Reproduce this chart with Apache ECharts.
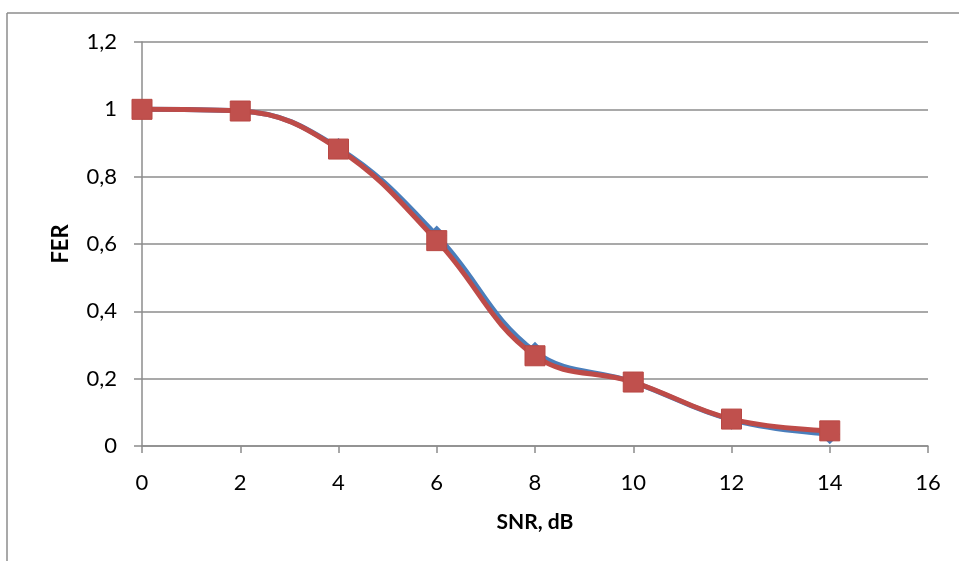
<!DOCTYPE html>
<html>
<head>
<meta charset="utf-8">
<script src="https://cdn.jsdelivr.net/npm/echarts@6/dist/echarts.min.js"></script>
<style>
  html, body { margin: 0; padding: 0; background: #fff; }
  #chart { width: 959px; height: 561px; }
</style>
</head>
<body>
<div id="chart"></div>
<script>
// SNR values (dB) and frame error rates
const snr = [ 0, 2, 4, 6, 8, 10, 12, 14 ];
const ferBlue = [ 1.0, 0.995, 0.885, 0.625, 0.28, 0.19, 0.078, 0.035 ];
const ferRed = [ 1.0, 0.995, 0.882, 0.61, 0.268, 0.19, 0.08, 0.045 ];
const xTicks = { min: 0, max: 16, interval: 2 };
const yTicks = { min: 0, max: 1.2, interval: 0.2 };

const fontFamily = 'Lato, "Open Sans", sans-serif';
const greyLine = '#8c8c8c';

function toPairs( xs, ys ) {
	return xs.map( ( x, i ) => [ x, ys[ i ] ] );
}

const chart = echarts.init( document.getElementById( 'chart' ) );

chart.setOption( {
	animation: false,
	grid: { left: 142, right: 31, top: 42, bottom: 115 },
	graphic: [
		// outer chart frame (only top and left edges visible)
		{ type: 'line', shape: { x1: 7, y1: 13, x2: 959, y2: 13 }, style: { stroke: greyLine, lineWidth: 1.5 } },
		{ type: 'line', shape: { x1: 7, y1: 13, x2: 7, y2: 561 }, style: { stroke: greyLine, lineWidth: 1.5 } }
	],
	xAxis: {
		type: 'value',
		min: xTicks.min,
		max: xTicks.max,
		interval: xTicks.interval,
		name: 'SNR, dB',
		nameLocation: 'middle',
		nameGap: 66,
		nameTextStyle: { fontFamily, fontSize: 21, fontWeight: 'bold', color: '#000' },
		axisLine: { show: true, lineStyle: { color: greyLine, width: 1.5 } },
		axisTick: { show: true, inside: false, length: 7, lineStyle: { color: greyLine, width: 1.5 } },
		axisLabel: { fontFamily, fontSize: 22, color: '#000', margin: 26 },
		splitLine: { show: false }
	},
	yAxis: {
		type: 'value',
		min: yTicks.min,
		max: yTicks.max,
		interval: yTicks.interval,
		name: 'FER',
		nameLocation: 'middle',
		nameGap: 70,
		nameRotate: 90,
		nameTextStyle: { fontFamily, fontSize: 22, fontWeight: 'bold', color: '#000' },
		axisLine: { show: true, lineStyle: { color: greyLine, width: 1.5 } },
		axisTick: { show: true, inside: false, length: 8, lineStyle: { color: greyLine, width: 1.5 } },
		axisLabel: {
			fontFamily,
			fontSize: 22,
			color: '#000',
			margin: 25,
			formatter: ( v ) => String( Math.round( v * 10 ) / 10 ).replace( '.', ',' )
		},
		splitLine: { show: true, lineStyle: { color: greyLine, width: 1.5 } }
	},
	series: [
		{
			type: 'line',
			smooth: 0.4,
			data: toPairs( snr, ferBlue ),
			symbol: 'diamond',
			symbolSize: 20,
			lineStyle: { color: '#4a7ebb', width: 5 },
			itemStyle: { color: '#4a7ebb' },
			z: 2
		},
		{
			type: 'line',
			smooth: 0.4,
			data: toPairs( snr, ferRed ),
			symbol: 'rect',
			symbolSize: 20,
			lineStyle: { color: '#be4b48', width: 5 },
			itemStyle: { color: '#c0504d', borderColor: '#b84743', borderWidth: 1 },
			z: 3
		}
	]
} );
</script>
</body>
</html>
